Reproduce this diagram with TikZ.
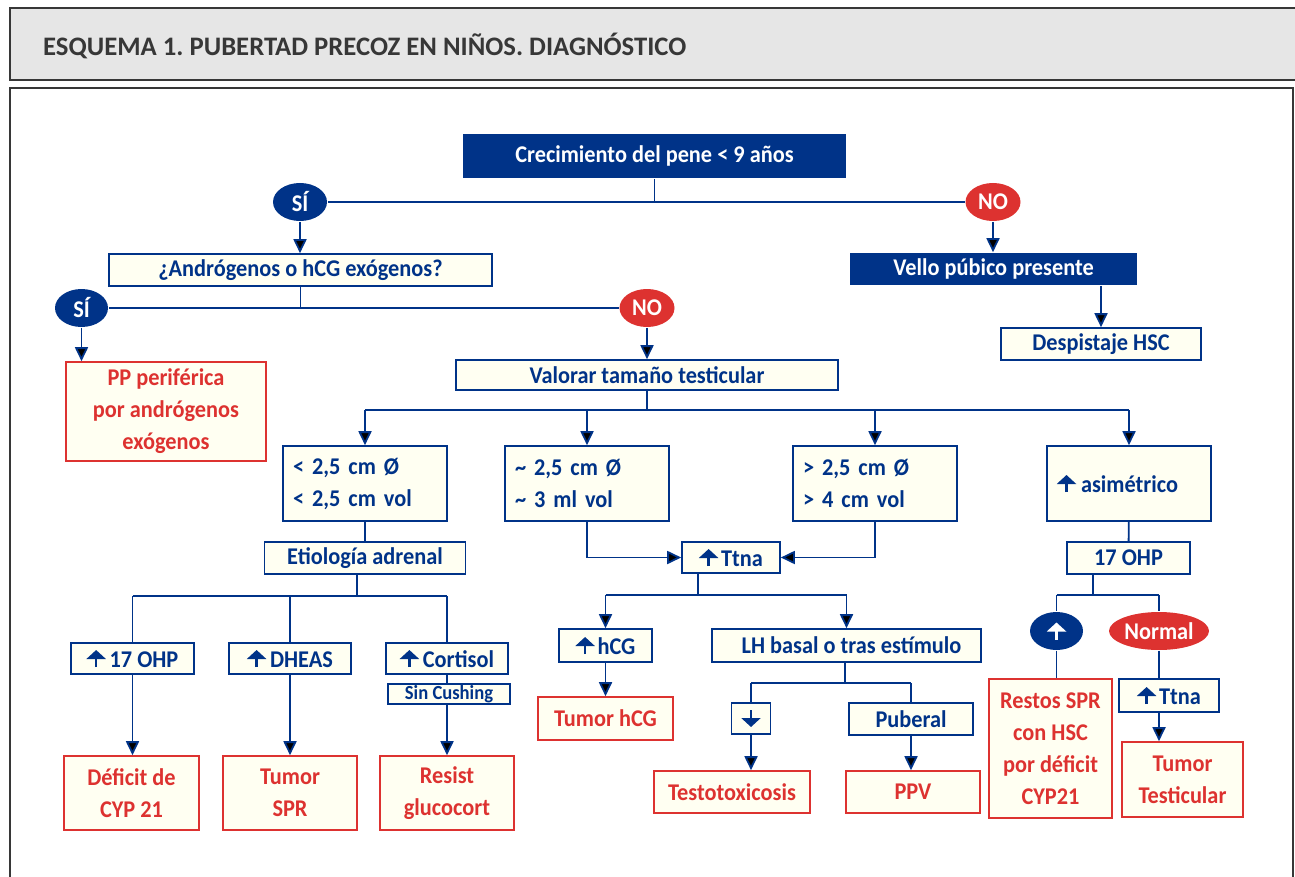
\documentclass[tikz,border=0pt]{standalone}
\usepackage{fontspec}
\setmainfont{Carlito}[FakeStretch=0.93]
\newfontfamily\titlefont{Carlito}
\usetikzlibrary{arrows.meta,shapes.geometric}
\definecolor{navy}{RGB}{0,51,136}
\definecolor{redc}{RGB}{221,50,48}
\definecolor{cream}{RGB}{255,255,242}
\definecolor{titlegray}{RGB}{230,230,230}
\definecolor{darkgray}{RGB}{55,55,55}
\newcommand\UpA[1][navy]{\tikz[baseline=0pt]{\draw[#1,line width=2.6pt,-{Triangle[length=9pt,width=19pt]}] (0pt,0pt) -- (0pt,17pt);}}
\newcommand\DnA{\tikz[baseline=0pt]{\draw[navy,line width=2.6pt,-{Triangle[length=9pt,width=19pt]}] (0pt,17pt) -- (0pt,0pt);}}
\tikzset{
  base/.style={font=\fontsize{24}{32}\selectfont\bfseries, inner sep=0pt, line width=1.6pt, align=center},
  bbox/.style={base, rectangle, draw=navy, fill=cream, text=navy},
  rbox/.style={base, rectangle, draw=redc, fill=cream, text=redc},
  nbox/.style={base, rectangle, fill=navy, text=white},
  nell/.style={base, ellipse, fill=navy, text=white},
  rell/.style={base, ellipse, fill=redc, text=white},
  lbox/.style={bbox, align=left, inner xsep=10pt, text width=144pt, minimum height=75pt},
  sz/.style 2 args={minimum width=#1pt, minimum height=#2pt},
  conn/.style={draw=navy, line width=1.8pt},
  arr/.style={conn, -{Triangle[length=14pt,width=13pt]}},
}
\frenchspacing
\begin{document}
\begin{tikzpicture}[x=1pt,y=-1pt]
\useasboundingbox (0,0) rectangle (1295,877);
% frames
\draw[darkgray, line width=1.4pt, fill=titlegray] (10,8) rectangle (1310,80);
\node[anchor=west, inner sep=0pt, text=darkgray, font=\titlefont\fontsize{26.7}{30}\selectfont\bfseries] (ttl) at (43,46) {ESQUEMA 1. PUBERTAD PRECOZ EN NIÑOS. DIAGNÓSTICO};
\draw[darkgray, line width=1.4pt] (10,900) -- (10,88) -- (1293,88) -- (1293,900);

% nodes
\node[nbox, sz={383}{44}] (crec) at (654.5,156) {Crecimiento del pene < 9 años};
\node[nell, sz={54}{38}] (si1) at (300,202) {SÍ};
\node[rell, sz={55}{38}] (no1) at (993,202) {NO};
\node[bbox, sz={383}{32}] (andro) at (300.5,270) {¿Andrógenos o hCG exógenos?};
\node[nbox, sz={287}{32}] (vello) at (993.5,269) {Vello púbico presente};
\node[nell, sz={53}{38}] (si2) at (81.5,308) {SÍ};
\node[rell, sz={55}{38}] (no2) at (647,308) {NO};
\node[rbox, sz={200}{99}] (pp) at (166,411.5) {PP periférica\\por andrógenos\\exógenos};
\node[bbox, sz={200}{32}] (desp) at (1101,344) {Despistaje HSC};
\node[bbox, sz={382}{30}] (val) at (647,375) {Valorar tamaño testicular};
\coordinate (vb) at (647,410);
\node[lbox] (t1) at (365,483.5) {< 2,5 cm Ø\\< 2,5 cm vol};
\node[lbox] (t2) at (587,483.5) {\char`\~{} 2,5 cm Ø\\\char`\~{} 3 ml vol};
\node[lbox] (t3) at (875,483.5) {> 2,5 cm Ø\\> 4 cm vol};
\node[lbox] (t4) at (1129,483.5) {\UpA\hspace{5pt}asimétrico};
\node[bbox, sz={201}{32}] (etio) at (365,558) {Etiología adrenal};
\node[bbox, sz={98}{31}] (ttna) at (731,557.5) {\UpA\hspace{3pt}Ttna};
\node[bbox, sz={123}{32}] (ohp2) at (1128.5,558) {17 OHP};
\coordinate (eb) at (357,596);
\node[bbox, sz={123}{31}] (a1) at (132.5,658.5) {\UpA\hspace{4pt}17 OHP};
\node[bbox, sz={122}{31}] (a2) at (290,658.5) {\UpA\hspace{4pt}DHEAS};
\node[bbox, sz={122}{31}] (a3) at (447,658.5) {\UpA\hspace{4pt}Cortisol};
\node[bbox, sz={122}{20}, font=\fontsize{20}{22}\selectfont\bfseries] (sc) at (449,694) {Sin Cushing};
\node[rbox, sz={135}{74}] (r1) at (131.5,793) {Déficit de\\CYP 21};
\node[rbox, sz={134}{74}] (r2) at (290,793) {Tumor\\SPR};
\node[rbox, sz={134}{74}] (r3) at (447,793) {Resist\\glucocort};
\coordinate (tb) at (698,595);
\node[bbox, sz={93}{33}] (hcg) at (605.5,645.5) {\UpA\hspace{3pt}hCG};
\node[bbox, sz={269}{33}] (lh) at (846.5,645.5) {\hspace{10pt}LH basal o tras estímulo};
\node[rbox, sz={135}{43}] (tumhcg) at (605.5,718.5) {Tumor hCG};
\coordinate (lb) at (845,683);
\node[bbox, sz={39}{31}] (dn) at (751,718.5) {\DnA};
\node[bbox, sz={124}{32}] (pub) at (911,719) {Puberal};
\node[rbox, sz={156}{42}] (testo) at (732,792) {Testotoxicosis};
\node[rbox, sz={134}{42}] (ppv) at (913,792) {PPV};
\coordinate (ob) at (1093,595);
\node[nell, sz={53}{38}] (upell) at (1056.5,631) {\UpA[white]};
\node[rell, sz={100}{38}] (normal) at (1159,631) {Normal};
\node[rbox, sz={123}{139}] (restos) at (1050.5,748.5) {Restos SPR\\con HSC\\por déficit\\CYP21};
\node[bbox, sz={100}{33}] (ttna2) at (1169,695.5) {\UpA\hspace{3pt}Ttna};
\node[rbox, sz={121}{75}] (tumtest) at (1182.5,779.5) {Tumor\\Testicular};

% connectors
\draw[conn] (crec) -- (crec |- si1);
\draw[conn] (si1) -- (no1);
\draw[arr] (si1) -- (si1 |- andro.north);
\draw[arr] (no1) -- (no1 |- vello.north);
\draw[conn] (andro) -- (andro |- si2);
\draw[conn] (si2) -- (no2);
\draw[arr] (si2) -- (si2 |- pp.north);
\draw[arr] (no2) -- (no2 |- val.north);
\draw[arr] (vello.south -| desp) -- (desp);
\draw[conn] (val) -- (vb);
\draw[conn] (vb -| t1) -- (vb -| t4);
\draw[arr] (vb -| t1) -- (t1);
\draw[arr] (vb -| t2) -- (t2);
\draw[arr] (vb -| t3) -- (t3);
\draw[arr] (vb -| t4) -- (t4);
\draw[conn] (t1) -- (etio);
\draw[arr] (t2) |- (ttna);
\draw[arr] (t3) |- (ttna);
\draw[conn] (t4) -- (ohp2);
\draw[conn] (etio.south -| eb) -- (eb);
\draw[conn] (eb -| a1) -- (eb -| a3);
\draw[conn] (eb -| a1) -- (a1);
\draw[conn] (eb -| a2) -- (a2);
\draw[conn] (eb -| a3) -- (a3);
\draw[arr] (a1) -- (a1 |- r1.north);
\draw[arr] (a2) -- (r2);
\draw[conn] (a3.south) -- (a3.south |- sc.north);
\draw[arr] (sc.south -| a3) -- (a3 |- r3.north);
\draw[conn] (ttna.south -| tb) -- (tb);
\draw[conn] (tb -| hcg) -- (tb -| lh);
\draw[arr] (tb -| hcg) -- (hcg);
\draw[arr] (tb -| lh) -- (lh);
\draw[arr] (hcg) -- (tumhcg);
\draw[conn] (lh.south -| lb) -- (lb);
\draw[conn] (lb -| dn) -- (lb -| pub);
\draw[conn] (lb -| dn) -- (dn);
\draw[conn] (lb -| pub) -- (pub);
\draw[arr] (dn) -- (dn |- testo.north);
\draw[arr] (pub) -- (pub |- ppv.north);
\draw[conn] (ohp2.south -| ob) -- (ob);
\draw[conn] (ob -| upell) -- (ob -| normal);
\draw[conn] (ob -| upell) -- (upell);
\draw[conn] (ob -| normal) -- (normal);
\draw[conn] (upell) -- (upell |- restos.north);
\draw[conn] (normal) -- (normal |- ttna2.north);
\draw[arr] (ttna2.south -| normal) -- (normal |- tumtest.north);
\end{tikzpicture}
\end{document}
